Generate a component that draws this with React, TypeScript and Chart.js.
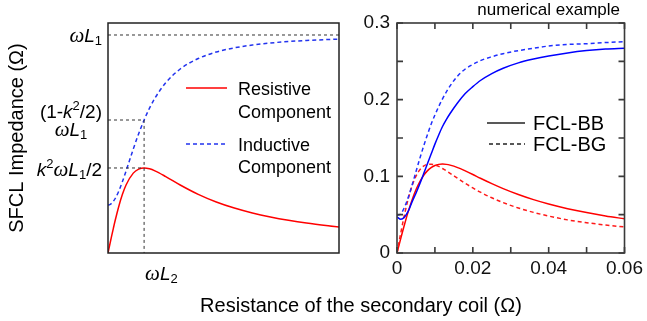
import React, { useEffect, useRef } from "react";
import { Chart, registerables } from "chart.js";
Chart.register(...registerables);

// ---------- Left panel (schematic) ----------
const leftX = [0, 0.05, 0.1, 0.15, 0.2, 0.3, 0.4, 0.5, 0.7, 0.85, 1, 1.15, 1.3, 1.6, 2, 2.5, 3, 3.5, 4, 4.5, 5, 5.5, 6.4];
const leftResistive = [0, 0.0389, 0.0772, 0.1144, 0.150, 0.2147, 0.269, 0.312, 0.3664, 0.3849, 0.39, 0.3862, 0.377, 0.3506, 0.312, 0.269, 0.234, 0.206, 0.1835, 0.1652, 0.15, 0.1373, 0.119];
const leftInductive = [0.22, 0.2219, 0.2277, 0.2372, 0.25, 0.2844, 0.3276, 0.376, 0.4765, 0.5472, 0.61, 0.6642, 0.71, 0.781, 0.844, 0.892, 0.922, 0.941, 0.954, 0.9633, 0.970, 0.975, 0.981];
const leftXMax = 6.4;
const leftYMax = 1.055;
const levelL1 = 1; // ωL1
const levelMid = 0.61; // (1-k²/2)ωL1
const levelPeak = 0.39; // k²ωL1/2
const xL2 = 1; // ωL2

// ---------- Right panel (numerical example) ----------
const rx = [0, 0.001, 0.002, 0.003, 0.004, 0.005, 0.006, 0.007, 0.008, 0.009, 0.010, 0.011, 0.012, 0.013, 0.014, 0.016, 0.018, 0.020, 0.022, 0.025, 0.028, 0.032, 0.036, 0.040, 0.045, 0.050, 0.055, 0.060];
const bbResistive = [0, 0.0192, 0.0376, 0.0546, 0.0696, 0.0824, 0.0928, 0.1010, 0.1071, 0.1114, 0.1141, 0.1156, 0.1160, 0.1156, 0.1146, 0.1114, 0.1071, 0.1024, 0.0975, 0.0905, 0.0840, 0.0763, 0.0696, 0.0639, 0.0578, 0.0527, 0.0483, 0.0446];
const bbInductive = [0.047, 0.044, 0.047, 0.055, 0.067, 0.078, 0.090, 0.103, 0.116, 0.129, 0.142, 0.154, 0.165, 0.174, 0.182, 0.196, 0.208, 0.217, 0.225, 0.234, 0.241, 0.248, 0.253, 0.257, 0.261, 0.264, 0.266, 0.267];
const bgResistive = [0, 0.0263, 0.0507, 0.0715, 0.0880, 0.1002, 0.1084, 0.1133, 0.1156, 0.1159, 0.1149, 0.1129, 0.1102, 0.1072, 0.1040, 0.0974, 0.0909, 0.0849, 0.0793, 0.0720, 0.0657, 0.0587, 0.0530, 0.0482, 0.0432, 0.0395, 0.0365, 0.0340];
const bgInductive = [0.049, 0.051, 0.060, 0.073, 0.089, 0.106, 0.123, 0.139, 0.154, 0.168, 0.180, 0.191, 0.201, 0.210, 0.218, 0.231, 0.240, 0.246, 0.251, 0.256, 0.260, 0.264, 0.267, 0.270, 0.272, 0.273, 0.2745, 0.2755];
const rXTickLabels: Record<string, string> = { "0": "0", "0.02": "0.02", "0.04": "0.04", "0.06": "0.06" };
const rYTickLabels: Record<string, string> = { "0": "0", "0.1": "0.1", "0.2": "0.2", "0.3": "0.3" };

const SANS = '"Liberation Sans", Arial, sans-serif';
const SERIF = '"Liberation Serif", "Times New Roman", serif';

type Seg = { t: string; font: string; dy?: number };
function drawRich(ctx: CanvasRenderingContext2D, segs: Seg[], x: number, y: number, align: "left" | "right" | "center") {
  ctx.save();
  ctx.textAlign = "left";
  ctx.textBaseline = "alphabetic";
  const widths = segs.map((s) => {
    ctx.font = s.font;
    return ctx.measureText(s.t).width;
  });
  const total = widths.reduce((a, b) => a + b, 0);
  let cx = align === "left" ? x : align === "right" ? x - total : x - total / 2;
  segs.forEach((s, i) => {
    ctx.font = s.font;
    ctx.fillText(s.t, cx, y + (s.dy || 0));
    cx += widths[i];
  });
  ctx.restore();
  return total;
}

const OMEGA = `italic 21px ${SERIF}`;
const IT = `italic 19px ${SANS}`;
const NORM = `19px ${SANS}`;
const SMALL = `13px ${SANS}`;

const pts = (xs: number[], ys: number[]) => xs.map((x, i) => ({ x, y: ys[i] }));

const leftPlugin = {
  id: "leftDecor",
  afterDraw(chart: any) {
    const ctx: CanvasRenderingContext2D = chart.ctx;
    const a = chart.chartArea;
    const xs = chart.scales.x;
    const ys = chart.scales.y;
    ctx.save();
    // frame
    ctx.strokeStyle = "#222";
    ctx.lineWidth = 1.5;
    ctx.setLineDash([]);
    ctx.strokeRect(a.left, a.top, a.right - a.left, a.bottom - a.top);
    ctx.fillStyle = "#000";
    // y-side labels
    const lx = a.left - 6;
    drawRich(ctx, [{ t: "ω", font: OMEGA }, { t: "L", font: IT }, { t: "1", font: SMALL, dy: 3 }], lx, ys.getPixelForValue(levelL1) + 7, "right");
    const midY = ys.getPixelForValue(levelMid);
    const w1 = drawRich(ctx, [{ t: "(1-", font: NORM }, { t: "k", font: IT }, { t: "2", font: SMALL, dy: -8 }, { t: "/2)", font: NORM }], lx, midY - 2, "right");
    drawRich(ctx, [{ t: "ω", font: OMEGA }, { t: "L", font: IT }, { t: "1", font: SMALL, dy: 3 }], lx - w1 / 2, midY + 16, "center");
    drawRich(ctx, [{ t: "k", font: IT }, { t: "2", font: SMALL, dy: -8 }, { t: "ω", font: OMEGA }, { t: "L", font: IT }, { t: "1", font: SMALL, dy: 3 }, { t: "/2", font: NORM }], lx, ys.getPixelForValue(levelPeak) + 8, "right");
    // x-side label
    drawRich(ctx, [{ t: "ω", font: OMEGA }, { t: "L", font: IT }, { t: "2", font: SMALL, dy: 3 }], xs.getPixelForValue(xL2) + 1, a.bottom + 27, "left");
    // legend
    ctx.lineWidth = 1.5;
    ctx.strokeStyle = "#ff0000";
    ctx.beginPath();
    ctx.moveTo(186, 88);
    ctx.lineTo(227, 88);
    ctx.stroke();
    ctx.strokeStyle = "#2233ee";
    ctx.setLineDash([4, 3]);
    ctx.beginPath();
    ctx.moveTo(186, 144);
    ctx.lineTo(227, 144);
    ctx.stroke();
    ctx.setLineDash([]);
    ctx.font = `18px ${SANS}`;
    ctx.textAlign = "left";
    ctx.textBaseline = "alphabetic";
    ctx.fillText("Resistive", 238, 95);
    ctx.fillText("Component", 238, 118);
    ctx.fillText("Inductive", 238, 151);
    ctx.fillText("Component", 238, 173);
    // axis titles
    ctx.font = `20px ${SANS}`;
    ctx.textAlign = "center";
    ctx.fillText("Resistance of the secondary coil (Ω)", 361, 312);
    ctx.save();
    ctx.translate(23, 138);
    ctx.rotate(-Math.PI / 2);
    ctx.fillText("SFCL Impedance (Ω)", 0, 0);
    ctx.restore();
    ctx.restore();
  },
};

const rightPlugin = {
  id: "rightDecor",
  afterDraw(chart: any) {
    const ctx: CanvasRenderingContext2D = chart.ctx;
    const a = chart.chartArea;
    const xs = chart.scales.x;
    const ys = chart.scales.y;
    ctx.save();
    ctx.strokeStyle = "#3a3a3a";
    ctx.lineWidth = 1.6;
    ctx.setLineDash([]);
    ctx.strokeRect(a.left, a.top, a.right - a.left, a.bottom - a.top);
    const tl = 6;
    ctx.beginPath();
    xs.ticks.forEach((t: any) => {
      const px = xs.getPixelForValue(t.value);
      ctx.moveTo(px, a.bottom);
      ctx.lineTo(px, a.bottom - tl);
      ctx.moveTo(px, a.top);
      ctx.lineTo(px, a.top + tl);
    });
    ys.ticks.forEach((t: any) => {
      const py = ys.getPixelForValue(t.value);
      ctx.moveTo(a.left, py);
      ctx.lineTo(a.left + tl, py);
      ctx.moveTo(a.right, py);
      ctx.lineTo(a.right - tl, py);
    });
    ctx.stroke();
    // legend
    ctx.strokeStyle = "#222";
    ctx.lineWidth = 1.3;
    ctx.beginPath();
    ctx.moveTo(487, 123);
    ctx.lineTo(525, 123);
    ctx.stroke();
    ctx.setLineDash([4, 3]);
    ctx.beginPath();
    ctx.moveTo(489, 144);
    ctx.lineTo(525, 144);
    ctx.stroke();
    ctx.setLineDash([]);
    ctx.fillStyle = "#000";
    ctx.font = `20px ${SANS}`;
    ctx.textAlign = "left";
    ctx.textBaseline = "alphabetic";
    ctx.fillText("FCL-BB", 533, 130);
    ctx.fillText("FCL-BG", 533, 151);
    ctx.font = `17px ${SANS}`;
    ctx.textAlign = "right";
    ctx.fillText("numerical example", 620, 15);
    ctx.restore();
  },
};

export default function App() {
  const leftRef = useRef<HTMLCanvasElement>(null);
  const rightRef = useRef<HTMLCanvasElement>(null);

  useEffect(() => {
    const guide = { borderColor: "#333", borderWidth: 1, borderDash: [3, 3], pointRadius: 0, tension: 0 };
    const left = new Chart(leftRef.current as HTMLCanvasElement, {
      type: "line",
      data: {
        datasets: [
          { ...guide, data: [{ x: 0, y: levelL1 }, { x: leftXMax, y: levelL1 }] },
          { ...guide, data: [{ x: 0, y: levelMid }, { x: xL2, y: levelMid }, { x: xL2, y: 0 }] },
          { ...guide, data: [{ x: 0, y: levelPeak }, { x: xL2, y: levelPeak }] },
          { data: pts(leftX, leftInductive), borderColor: "#2233ee", borderWidth: 1.5, borderDash: [4, 3], pointRadius: 0, cubicInterpolationMode: "monotone" },
          { data: pts(leftX, leftResistive), borderColor: "#ff0000", borderWidth: 1.5, pointRadius: 0, cubicInterpolationMode: "monotone" },
        ],
      } as any,
      options: {
        responsive: false,
        animation: false,
        devicePixelRatio: 1,
        layout: { padding: { left: 108, top: 23, right: 308, bottom: 68 } },
        plugins: { legend: { display: false }, tooltip: { enabled: false } },
        scales: {
          x: { type: "linear", min: 0, max: leftXMax, display: false },
          y: { type: "linear", min: 0, max: leftYMax, display: false },
        },
      } as any,
      plugins: [leftPlugin],
    });

    const tickFont = { family: SANS, size: 19 };
    const right = new Chart(rightRef.current as HTMLCanvasElement, {
      type: "line",
      data: {
        datasets: [
          { data: pts(rx, bgInductive), borderColor: "#1f2fff", borderWidth: 1.5, borderDash: [4, 3], pointRadius: 0, cubicInterpolationMode: "monotone" },
          { data: pts(rx, bbInductive), borderColor: "#0000ff", borderWidth: 1.5, pointRadius: 0, cubicInterpolationMode: "monotone" },
          { data: pts(rx, bgResistive), borderColor: "#ff1a1a", borderWidth: 1.5, borderDash: [4, 3], pointRadius: 0, cubicInterpolationMode: "monotone" },
          { data: pts(rx, bbResistive), borderColor: "#ff0000", borderWidth: 1.5, pointRadius: 0, cubicInterpolationMode: "monotone" },
        ],
      } as any,
      options: {
        responsive: false,
        animation: false,
        devicePixelRatio: 1,
        layout: { padding: { left: 340, top: 23, right: 20, bottom: 0 } },
        plugins: { legend: { display: false }, tooltip: { enabled: false } },
        scales: {
          x: {
            type: "linear",
            min: 0,
            max: 0.06,
            grid: { display: false, drawTicks: false },
            border: { display: false },
            ticks: {
              stepSize: 0.01,
              autoSkip: false,
              maxRotation: 0,
              padding: 4,
              color: "#111",
              font: tickFont,
              callback: (v: number) => rXTickLabels[String(Math.round(v * 1000) / 1000)] ?? "",
            },
            afterFit: (s: any) => {
              s.height = 68;
            },
          },
          y: {
            type: "linear",
            min: 0,
            max: 0.3,
            grid: { display: false, drawTicks: false },
            border: { display: false },
            ticks: {
              stepSize: 0.05,
              autoSkip: false,
              padding: 7,
              color: "#111",
              font: tickFont,
              callback: (v: number) => rYTickLabels[String(Math.round(v * 1000) / 1000)] ?? "",
            },
            afterFit: (s: any) => {
              s.width = 57;
            },
          },
        },
      } as any,
      plugins: [rightPlugin],
    });

    return () => {
      left.destroy();
      right.destroy();
    };
  }, []);

  const cs: React.CSSProperties = { position: "absolute", left: 0, top: 0, width: 647, height: 321 };
  return (
    <div style={{ position: "absolute", left: 0, top: 0, width: 647, height: 321, background: "#fff", overflow: "hidden" }}>
      <canvas ref={leftRef} width={647} height={321} style={cs} />
      <canvas ref={rightRef} width={647} height={321} style={cs} />
    </div>
  );
}
